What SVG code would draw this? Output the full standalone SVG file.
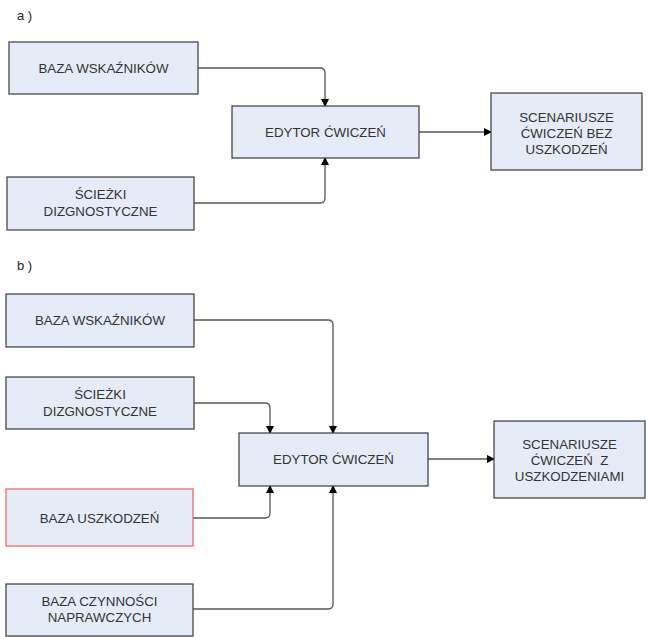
<svg xmlns="http://www.w3.org/2000/svg" width="649" height="637" viewBox="0 0 649 637">
<style>
.box{fill:#e6ecf7;stroke:#3a3a3a;stroke-width:1.2}
.red{fill:#e6ecf7;stroke:#f06a6a;stroke-width:1.3}
text{font-family:"Liberation Sans",Arial,sans-serif;font-size:13.3px;fill:#333;text-anchor:middle}
.lbl{text-anchor:start;fill:#222;font-size:13px}
.c{fill:none;stroke:#555;stroke-width:1.3}
</style>
<defs>
<marker id="ah" markerWidth="8" markerHeight="8" refX="7" refY="4" orient="auto" markerUnits="userSpaceOnUse">
<path d="M0,0 L8,4 L0,8 Z" fill="#000"/>
</marker>
</defs>
<rect width="649" height="637" fill="#fff"/>
<text class="lbl" x="17" y="20">a )</text>
<text class="lbl" x="17" y="270">b )</text>

<g id="connectors">
<path class="c" d="M198,68 H320 Q325,68 325,73 V106" marker-end="url(#ah)"/>
<path class="c" d="M194,203 H320 Q325,203 325,198 V158" marker-end="url(#ah)"/>
<path class="c" d="M419,132 H491" marker-end="url(#ah)"/>
<path class="c" d="M194,320 H328 Q333,320 333,325 V433" marker-end="url(#ah)"/>
<path class="c" d="M194,403 H265 Q270,403 270,408 V433" marker-end="url(#ah)"/>
<path class="c" d="M193,518 H265 Q270,518 270,513 V486" marker-end="url(#ah)"/>
<path class="c" d="M193,609 H328 Q333,609 333,604 V486" marker-end="url(#ah)"/>
<path class="c" d="M428,459 H494" marker-end="url(#ah)"/>
</g>

<g id="a_baza_wsk"><rect class="box" x="9" y="42" width="189" height="52"/><text x="103.5" y="73">BAZA WSKAŹNIKÓW</text></g>
<g id="a_sciezki"><rect class="box" x="7" y="177" width="187" height="53"/><text x="100.5" y="199">ŚCIEŻKI</text><text x="100.5" y="216">DIZGNOSTYCZNE</text></g>
<g id="a_edytor"><rect class="box" x="232" y="106" width="187" height="52"/><text x="325.5" y="137">EDYTOR ĆWICZEŃ</text></g>
<g id="a_scen"><rect class="box" x="491" y="93" width="151" height="77"/><text x="566.5" y="122">SCENARIUSZE</text><text x="566.5" y="138">ĆWICZEŃ BEZ</text><text x="566.5" y="154">USZKODZEŃ</text></g>

<g id="b_baza_wsk"><rect class="box" x="6" y="294" width="188" height="53"/><text x="100" y="325">BAZA WSKAŹNIKÓW</text></g>
<g id="b_sciezki"><rect class="box" x="6" y="377" width="188" height="52"/><text x="100" y="399">ŚCIEŻKI</text><text x="100" y="416">DIZGNOSTYCZNE</text></g>
<g id="b_baza_usz"><rect class="red" x="6" y="489" width="187" height="57"/><text x="99.5" y="523">BAZA USZKODZEŃ</text></g>
<g id="b_baza_czyn"><rect class="box" x="6" y="584" width="187" height="52"/><text x="99.5" y="606">BAZA CZYNNOŚCI</text><text x="99.5" y="622">NAPRAWCZYCH</text></g>
<g id="b_edytor"><rect class="box" x="239" y="433" width="189" height="53"/><text x="333.5" y="464">EDYTOR ĆWICZEŃ</text></g>
<g id="b_scen"><rect class="box" x="494" y="421" width="151" height="77"/><text x="569.5" y="449">SCENARIUSZE</text><text x="569.5" y="465" xml:space="preserve">ĆWICZEŃ  Z</text><text x="569.5" y="481">USZKODZENIAMI</text></g>
</svg>
